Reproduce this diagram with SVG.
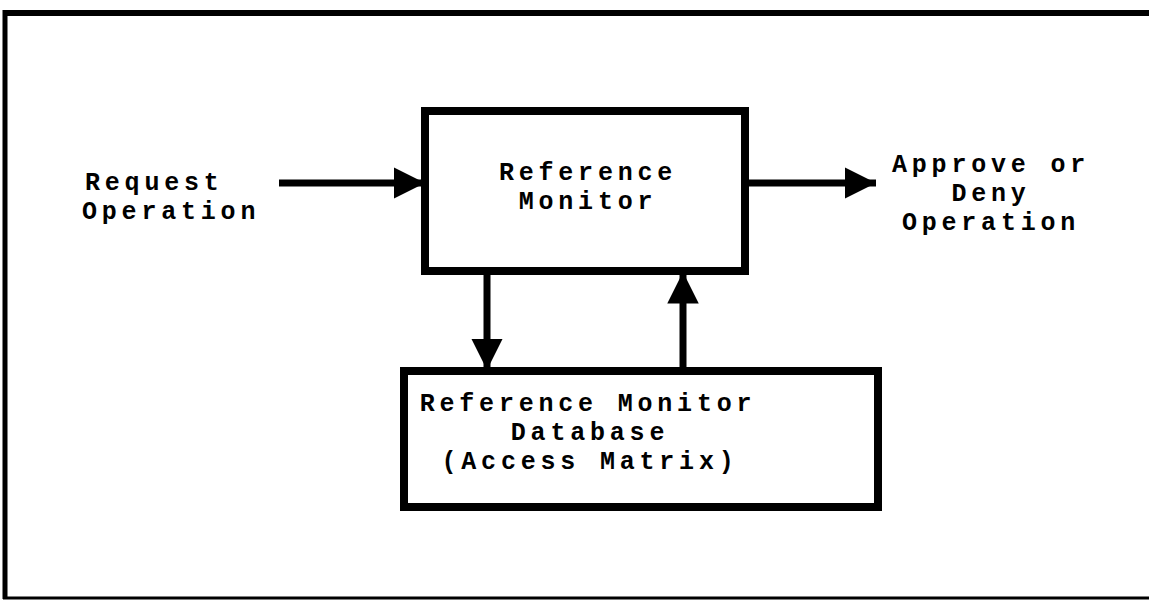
<svg xmlns="http://www.w3.org/2000/svg" width="1149" height="601" viewBox="0 0 1149 601">
<defs>
<style>
.t{font-family:"Liberation Mono","DejaVu Sans Mono",monospace;font-weight:bold;font-size:25px;letter-spacing:4.8px;fill:#000}
.box{fill:#fff;stroke:#000;stroke-width:8}
.c{stroke:#000;stroke-width:7;fill:none}
</style>
<marker id="ah" viewBox="0 0 10 10" refX="10" refY="5" markerWidth="4.5" markerHeight="4.5" markerUnits="strokeWidth" orient="auto">
<path d="M0,0 L10,5 L0,10 z" fill="#000"/>
</marker>
</defs>
<rect width="1149" height="601" fill="#fff"/>
<g id="frame">
<line x1="5" y1="13" x2="1149" y2="13" stroke="#000" stroke-width="6"/>
<line x1="5" y1="10" x2="5" y2="599" stroke="#000" stroke-width="5"/>
<line x1="3" y1="598" x2="1149" y2="598" stroke="#000" stroke-width="3"/>
</g>
<g id="connectors">
<line class="c" x1="279" y1="183" x2="425" y2="183" marker-end="url(#ah)"/>
<line class="c" x1="745" y1="183" x2="876" y2="183" marker-end="url(#ah)"/>
<line class="c" x1="487" y1="272" x2="487" y2="370" marker-end="url(#ah)"/>
<line class="c" x1="683" y1="370" x2="683" y2="272" marker-end="url(#ah)"/>
</g>
<g id="monitor">
<rect class="box" x="425" y="111" width="320" height="160"/>
<text class="t" x="588" y="180" text-anchor="middle">Reference</text>
<text class="t" x="588" y="209" text-anchor="middle">Monitor</text>
</g>
<g id="database">
<rect class="box" x="404" y="371" width="474" height="136"/>
<text class="t" x="588" y="411" text-anchor="middle">Reference Monitor</text>
<text class="t" x="590" y="440" text-anchor="middle">Database</text>
<text class="t" x="590" y="469" text-anchor="middle">(Access Matrix)</text>
</g>
<g id="request">
<text class="t" x="85" y="190">Request</text>
<text class="t" x="82" y="219">Operation</text>
</g>
<g id="result">
<text class="t" x="991" y="172" text-anchor="middle">Approve or</text>
<text class="t" x="991" y="201" text-anchor="middle">Deny</text>
<text class="t" x="991" y="230" text-anchor="middle">Operation</text>
</g>
</svg>
